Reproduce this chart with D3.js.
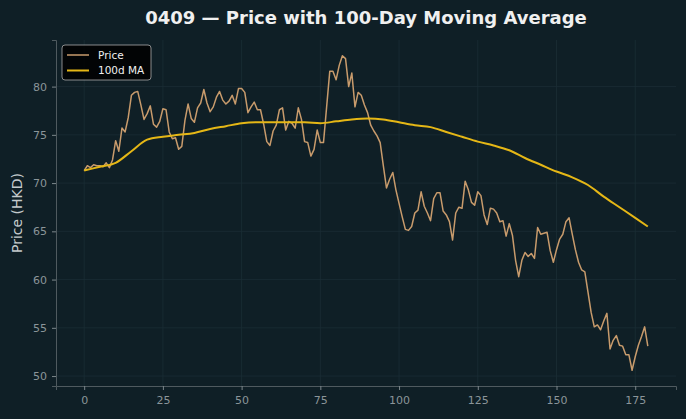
<!DOCTYPE html>
<html>
<head>
<meta charset="utf-8">
<script src="https://cdn.jsdelivr.net/npm/d3@7"></script>
<style>
  body { margin: 0; background: #0f1f26; }
  svg { display: block; font-family: "DejaVu Sans", sans-serif; }
</style>
</head>
<body>
<div class="viz"></div>
<script>
// daily close, day 0..179
var price = [
  71.3, 71.8, 71.6, 71.9, 71.8, 71.8, 71.7, 72.1, 71.6, 72.4,
  74.4, 73.3, 75.7, 75.3, 76.8, 79.1, 79.4, 79.5, 78.1, 76.6,
  77.2, 78.0, 76.1, 75.8, 76.4, 77.7, 77.6, 75.3, 74.6, 74.7,
  73.5, 73.8, 76.5, 78.2, 76.7, 76.3, 77.8, 78.3, 79.7, 78.3,
  77.4, 77.9, 78.9, 79.5, 78.6, 78.2, 78.5, 79.1, 78.2, 79.8,
  79.8, 79.4, 77.3, 77.9, 78.4, 77.6, 77.6, 76.1, 74.3, 73.9,
  75.4, 76.0, 77.6, 77.8, 75.5, 76.4, 76.2, 75.7, 77.8, 76.6,
  74.3, 74.2, 72.8, 73.5, 75.5, 74.2, 74.2, 77.9, 81.6, 81.6,
  80.7, 82.2, 83.2, 82.9, 80.0, 81.4, 77.9, 79.4, 79.1, 78.1,
  77.3, 76.0, 75.4, 74.9, 74.2, 71.8, 69.5, 70.4, 71.1, 69.3,
  67.9, 66.5, 65.2, 65.1, 65.5, 66.9, 67.2, 69.1, 67.6, 66.9,
  66.1, 68.4, 69.0, 69.0, 67.1, 66.7, 66.0, 64.1, 66.9, 67.5,
  67.4, 70.2, 69.3, 68.0, 67.7, 69.1, 68.7, 66.7, 65.7, 67.4,
  67.3, 66.9, 66.0, 66.1, 64.5, 65.8, 64.6, 62.0, 60.3, 62.0,
  62.8, 62.4, 62.7, 62.2, 65.4, 64.7, 64.8, 64.9, 63.0, 61.8,
  63.1, 64.2, 64.7, 66.0, 66.4, 64.7, 63.1, 61.8, 61.0, 60.8,
  58.7, 56.6, 55.1, 55.3, 54.8, 55.7, 56.5, 52.8, 53.7, 54.2,
  53.2, 53.1, 52.2, 52.2, 50.6, 52.0, 53.2, 54.1, 55.1, 53.1
];

// 100-day moving average, read every 5 days
var maDays = [0, 5, 10, 15, 20, 25, 30, 35, 40, 45, 50, 55, 60, 65, 70, 75, 80, 85, 90,
              95, 100, 105, 110, 115, 120, 125, 130, 135, 140, 145, 150, 155, 160, 165, 170, 175, 179];
var maValues = [71.3, 71.7, 72.1, 73.3, 74.5, 74.8, 75.0, 75.2, 75.6, 75.9, 76.2, 76.3, 76.3, 76.3, 76.3, 76.2, 76.4, 76.6, 76.7,
                76.6, 76.3, 76.0, 75.8, 75.3, 74.8, 74.3, 73.9, 73.4, 72.6, 71.9, 71.2, 70.6, 69.8, 68.6, 67.5, 66.4, 65.5];

var xTicks = [0, 25, 50, 75, 100, 125, 150, 175];
var yTicks = [50, 55, 60, 65, 70, 75, 80];

var w = 686;
var h = 419;
var margin = {top: 40, right: 10, bottom: 33, left: 56};

var bg = "#0f1f26";
var priceColor = "#c89b6c";
var maColor = "#e5b716";

var n = price.length;
var pad = (n - 1) * 0.05;
var xScale = d3.scaleLinear()
    .domain([-pad, n - 1 + pad])
    .range([margin.left, w - margin.right]);

var yMin = d3.min(price), yMax = d3.max(price);
var yPad = (yMax - yMin) * 0.05;
var yScale = d3.scaleLinear()
    .domain([yMin - yPad, yMax + yPad])
    .range([h - margin.bottom, margin.top]);

var svg = d3.select(".viz")
    .append("svg")
    .attr("width", w)
    .attr("height", h);

svg.append("rect")
    .attr("width", w)
    .attr("height", h)
    .attr("fill", bg);

// grid
svg.append("g")
    .selectAll("line")
    .data(xTicks)
    .enter()
    .append("line")
    .attr("x1", function(d) { return xScale(d); })
    .attr("x2", function(d) { return xScale(d); })
    .attr("y1", margin.top)
    .attr("y2", h - margin.bottom)
    .attr("stroke", "#1b2d35")
    .attr("stroke-width", 0.8);

svg.append("g")
    .selectAll("line")
    .data(yTicks)
    .enter()
    .append("line")
    .attr("x1", margin.left)
    .attr("x2", w - margin.right)
    .attr("y1", function(d) { return yScale(d); })
    .attr("y2", function(d) { return yScale(d); })
    .attr("stroke", "#1b2d35")
    .attr("stroke-width", 0.8);

//// AXES ////
var xAxis = d3.axisBottom(xScale).tickValues(xTicks).tickSize(4).tickPadding(6);
var yAxis = d3.axisLeft(yScale).tickValues(yTicks).tickSize(4).tickPadding(5);

var gx = svg.append("g")
    .attr("class", "x axis")
    .attr("transform", "translate(0," + (h - margin.bottom) + ")")
    .call(xAxis);

var gy = svg.append("g")
    .attr("class", "y axis")
    .attr("transform", "translate(" + margin.left + ",0)")
    .call(yAxis);

[gx, gy].forEach(function(g) {
    g.select(".domain").attr("stroke", "#4f5a5f").attr("stroke-width", 1);
    g.selectAll(".tick line").attr("stroke", "#7c878b");
    g.selectAll(".tick text")
        .attr("fill", "#8b9599")
        .attr("font-size", "11px")
        .attr("font-family", "DejaVu Sans, sans-serif");
});

//// LINES ////
var priceLine = d3.line()
    .x(function(d, i) { return xScale(i); })
    .y(function(d) { return yScale(d); });

svg.append("path")
    .datum(price)
    .attr("d", priceLine)
    .attr("fill", "none")
    .attr("stroke", priceColor)
    .attr("stroke-width", 1.5)
    .attr("stroke-linejoin", "round");

var maLine = d3.line()
    .x(function(d, i) { return xScale(maDays[i]); })
    .y(function(d) { return yScale(d); })
    .curve(d3.curveMonotoneX);

svg.append("path")
    .datum(maValues)
    .attr("d", maLine)
    .attr("fill", "none")
    .attr("stroke", maColor)
    .attr("stroke-width", 2);

//// TITLE + LABELS ////
svg.append("text")
    .attr("x", (margin.left + w - margin.right) / 2)
    .attr("y", 24)
    .attr("text-anchor", "middle")
    .attr("fill", "#f0f0f0")
    .attr("font-weight", "bold")
    .attr("font-size", "18px")
    .text("0409 \u2014 Price with 100-Day Moving Average");

svg.append("text")
    .attr("transform", "translate(22," + ((margin.top + h - margin.bottom) / 2) + ") rotate(-90)")
    .attr("text-anchor", "middle")
    .attr("fill", "#c4cacc")
    .attr("font-size", "14px")
    .text("Price (HKD)");

//// LEGEND ////
var legend = svg.append("g")
    .attr("transform", "translate(62,45)");

legend.append("rect")
    .attr("width", 89)
    .attr("height", 35)
    .attr("rx", 3)
    .attr("fill", "#000000")
    .attr("fill-opacity", 0.85)
    .attr("stroke", "#a9a9a9")
    .attr("stroke-width", 0.8);

var legendItems = [
    {label: "Price", color: priceColor, width: 1.5},
    {label: "100d MA", color: maColor, width: 2}
];

legendItems.forEach(function(d, i) {
    var y = 10 + i * 15.5;
    legend.append("line")
        .attr("x1", 5).attr("x2", 27)
        .attr("y1", y).attr("y2", y)
        .attr("stroke", d.color)
        .attr("stroke-width", d.width);
    legend.append("text")
        .attr("x", 36)
        .attr("y", y + 3.5)
        .attr("fill", "#f0f0f0")
        .attr("font-size", "10.5px")
        .text(d.label);
});
</script>
</body>
</html>
